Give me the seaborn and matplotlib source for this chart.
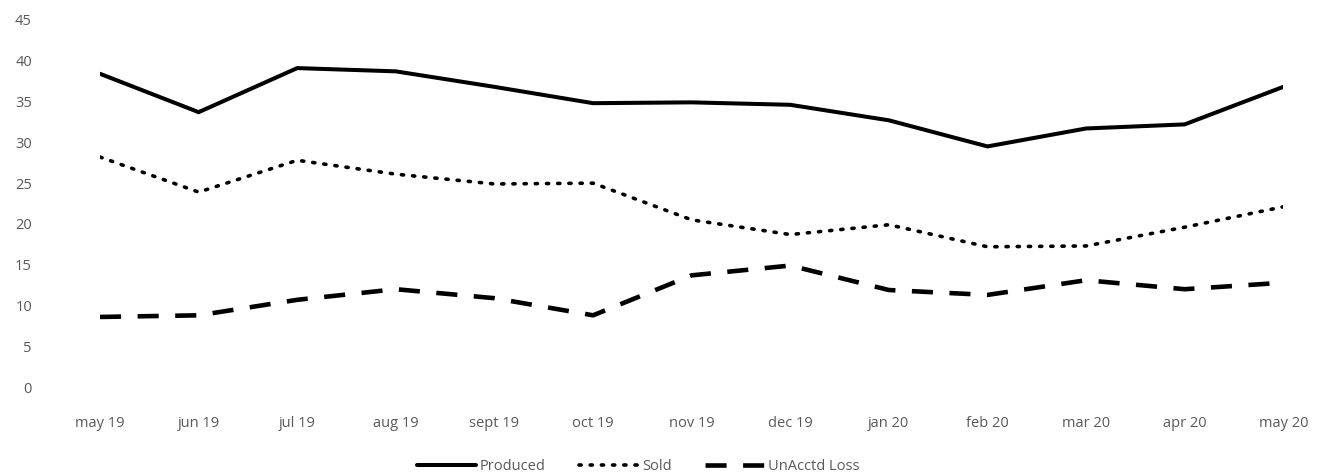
import matplotlib
matplotlib.use("Agg")
import matplotlib.pyplot as plt
import seaborn as sns
import pandas as pd

months = ["may 19", "jun 19", "jul 19", "aug 19", "sept 19", "oct 19", "nov 19",
          "dec 19", "jan 20", "feb 20", "mar 20", "apr 20", "may 20"]
produced = [38.4, 33.7, 39.1, 38.7, 36.8, 34.8, 34.9, 34.6, 32.7, 29.5, 31.7, 32.2, 36.8]
sold = [28.2, 23.9, 27.8, 26.1, 24.9, 25.0, 20.5, 18.7, 19.9, 17.2, 17.3, 19.6, 22.1]
loss = [8.6, 8.8, 10.7, 12.0, 10.9, 8.8, 13.7, 14.9, 11.9, 11.3, 13.1, 12.0, 12.8]
yticks = [0, 5, 10, 15, 20, 25, 30, 35, 40, 45]

sns.set_theme(style="white")
plt.rcParams["font.family"] = ["Open Sans", "DejaVu Sans"]

text_color = "#595959"
fig = plt.figure(figsize=(13.25, 4.75), dpi=100)
ax = fig.add_axes([0.0755, 0.185, 0.893, 0.773])

pos = list(range(len(months)))
series = [
    ("Produced", produced, dict(linestyle="-", linewidth=2.9, solid_capstyle="round",
                                solid_joinstyle="miter")),
    ("Sold", sold, dict(linestyle=(0, (0.6, 2.5)), linewidth=2.6, dash_capstyle="round")),
    ("UnAcctd Loss", loss, dict(linestyle=(0, (4.6, 3.6)), linewidth=3.3, dash_capstyle="butt")),
]
for name, vals, style in series:
    df = pd.DataFrame({"x": pos, "y": vals})
    sns.lineplot(data=df, x="x", y="y", ax=ax, color="black", label=name, **style)

ax.set_xlim(0, len(months) - 1)
ax.set_ylim(0, 45)
ax.set_xticks(pos)
ax.set_xticklabels(months)
ax.set_yticks(yticks)
ax.set_yticklabels([str(v) for v in yticks])
ax.tick_params(axis="both", length=0, labelsize=10.5, colors=text_color)
ax.tick_params(axis="x", pad=21)
ax.tick_params(axis="y", pad=49)
ax.set_xlabel("")
ax.set_ylabel("")
for s in ax.spines.values():
    s.set_visible(False)

leg = ax.legend(loc="lower center", bbox_to_anchor=(0.455, -0.272), ncol=3, frameon=False,
                handlelength=4.0, columnspacing=2.3, handletextpad=0.3, fontsize=10.5)
for t in leg.get_texts():
    t.set_color(text_color)

fig.savefig("out.png", dpi=100, facecolor="white")
